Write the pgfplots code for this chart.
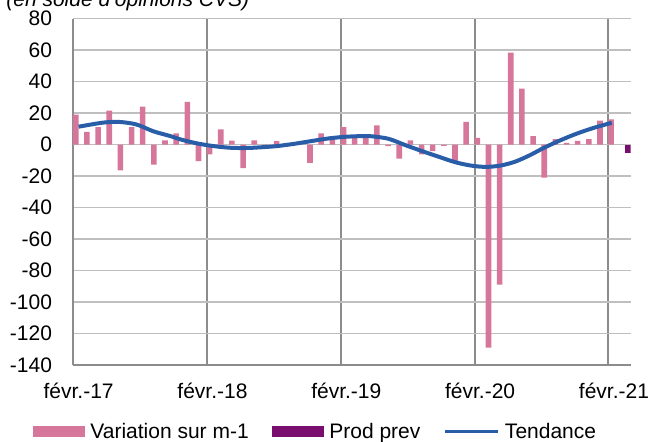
\documentclass[border=0pt]{standalone}
\usepackage{pgfplots}
\pgfplotsset{compat=1.18}
\usepackage{pgfplotstable}
\usepackage{fontspec}
\setmainfont{Liberation Sans}
\definecolor{pinkbar}{HTML}{D6769A}
\definecolor{purplebar}{HTML}{7A0E6E}
\definecolor{trendblue}{HTML}{2A5DA8}
\definecolor{gridv}{HTML}{8C8C8C}
\definecolor{gridh}{HTML}{BFBFBF}
\pgfplotstableread{
m v
0 19
1 8
2 11
3 21.5
4 -16.5
5 11
6 24
7 -12.7
8 2.7
9 7
10 27
11 -10.6
12 -6.3
13 9.6
14 2.5
15 -15
16 2.7
17 -1
18 2.1
19 -1
20 0
21 -11.6
22 7
23 5.2
24 11.1
25 5.5
26 4
27 12.2
28 -1
29 -9
30 2.7
31 -6.3
32 -4.2
33 -0.8
34 -10.5
35 14.3
36 4.2
37 -129
38 -89
39 58.3
40 35.5
41 5.3
42 -21
43 3.4
44 1
45 2.3
46 3.4
47 15.2
48 16
}\varia
\begin{document}
\begin{tikzpicture}
\fontsize{10.5}{12}\selectfont
\path[use as bounding box, clip] (-36.5pt,-38pt) rectangle (288.5pt,182.5pt);
\node[anchor=base west, font=\itshape\fontsize{10.5}{12}\selectfont, inner sep=0pt] at (-33.5pt,179.5pt) {(en solde d'opinions CVS)};
\begin{axis}[
 scale only axis, width=278.85pt, height=173.25pt,
 xmin=0, xmax=50, ymin=-140, ymax=80,
 ytick={-140,-120,...,80},
 xtick={0,12,24,36,48},
 xticklabels={févr.-17,févr.-18,févr.-19,févr.-20,févr.-21},
 xmajorgrids, ymajorgrids,
 x grid style={color=gridv, line width=1pt},
 y grid style={color=gridh, line width=0.75pt},
 axis x line*=bottom, axis y line*=left,
 axis line style={color=gridv, line width=1pt, -},
 major tick length=0pt,
 tick style={draw=none},
 /pgf/number format/assume math mode=true,
 tick label style={font=\fontsize{10.5}{12}\selectfont},
 yticklabel style={inner sep=0pt, anchor=east, xshift=-10.3pt},
 xticklabel style={inner sep=0pt, anchor=base, xshift=2.8pt, yshift=-16.5pt},
 extra y ticks={0}, extra y tick labels={},
 extra y tick style={grid style={black, line width=0.5pt}},
 legend columns=3,
 legend style={at={(axis description cs:-0.0717,-0.1934)}, anchor=west,
   draw=none, fill=none, inner sep=0pt,
   font=\fontsize{10.5}{12}\selectfont, nodes={inner sep=0pt},
   /tikz/every odd column/.append style={column sep=2.5pt},
   /tikz/every even column/.append style={column sep=11.8pt}},
]
\addplot[ybar, bar width=0.5, bar shift=0.25, fill=pinkbar, draw=none,
  legend image code/.code={\fill[pinkbar] (0pt,-2.6pt) rectangle (26pt,2.9pt);}]
  table[x=m, y=v]{\varia};
\addlegendentry{Variation sur m-1}
\addplot[ybar, bar width=0.5, bar shift=0, fill=purplebar, draw=none,
  legend image code/.code={\fill[purplebar] (0pt,-2.6pt) rectangle (26pt,2.9pt);}]
  coordinates {(49.75,-5.1)};
\addlegendentry{Prod prev}
\addplot[smooth, color=trendblue, line width=2pt,
  legend image code/.code={\draw[trendblue, line width=1.5pt] (0pt,0.4pt) -- (26.5pt,0.4pt);}]
  coordinates {(0.5,11.3) (2.7,13.9) (4.2,14.3) (5.7,12.7) (7.2,8.4) (8.7,5.4)
  (9.75,3.0) (11.2,0.6) (12.7,-1.1) (14.2,-2.1) (15.7,-2.2) (17.2,-1.6)
  (18.3,-1.0) (19.8,0.4) (21.3,2.1) (22.75,3.7) (24.2,4.8) (25.7,5.3)
  (26.8,5.2) (28.3,3.6) (29.8,-0.4) (31.3,-4.2) (32.8,-7.8) (34.3,-11.3)
  (35.7,-13.4) (37,-14.2) (38.3,-13.4) (39.6,-11) (40.9,-7) (42.2,-2.2)
  (43.7,2.7) (45.2,7) (46.7,10.6) (48.3,13.8)};
\addlegendentry{Tendance}
\end{axis}
\end{tikzpicture}
\end{document}
